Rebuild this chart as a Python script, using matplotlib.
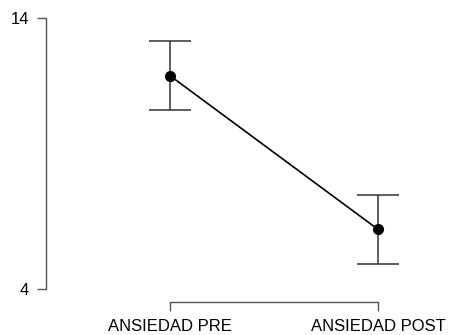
import matplotlib.pyplot as plt

plt.rcParams['font.family'] = ['Liberation Sans', 'DejaVu Sans']

# medias e intervalos de la ansiedad
conditions = ["ANSIEDAD PRE", "ANSIEDAD POST"]
means = [11.87, 6.2]
ci_half = [1.27, 1.27]
y_ticks = [4, 14]

fig = plt.figure(figsize=(4.5, 3.35), dpi=100)
ax = fig.add_axes([45.5 / 450, 33 / 335, (440 - 45.5) / 450, (302 - 10) / 335])

x = [1, 2]
ax.errorbar(x, means, yerr=ci_half, fmt="none", ecolor="#333333",
            elinewidth=1.1, capsize=15, capthick=1.1, zorder=2)
ax.plot(x, means, color="black", linewidth=1.2, marker="o",
        markersize=7, zorder=3)

ax.set_xlim(0.4014, 2.298)
ax.set_ylim(3.52, 14.295)

for side in ["top", "right"]:
    ax.spines[side].set_visible(False)
ax.spines["left"].set_bounds(4, 14)
ax.spines["bottom"].set_bounds(1, 2)
for side in ["left", "bottom"]:
    ax.spines[side].set_color("#555555")
    ax.spines[side].set_linewidth(1.0)

ax.set_xticks(x)
ax.set_xticklabels(conditions)
ax.set_yticks(y_ticks)
ax.tick_params(axis="both", direction="out", length=6.5, width=1.0,
               color="#555555", labelsize=12, labelcolor="black")
ax.tick_params(axis="x", pad=5.5)
ax.tick_params(axis="y", pad=5.5)

fig.savefig("out.png", dpi=100)
